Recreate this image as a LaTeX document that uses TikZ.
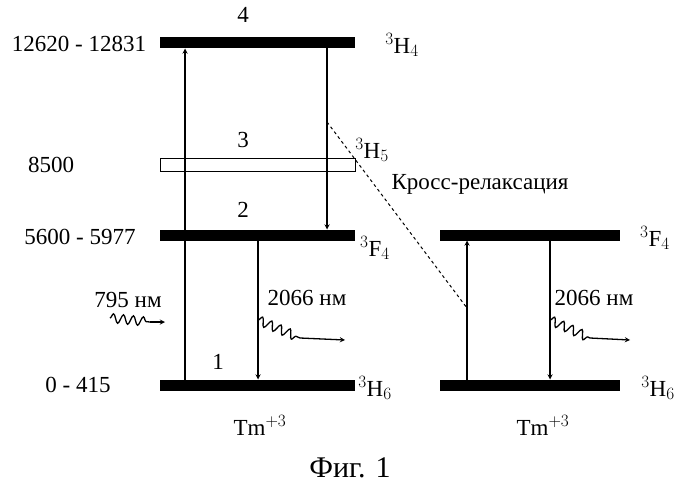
\documentclass[tikz,border=0pt]{standalone}
\usepackage{fontspec}
\setmainfont{Liberation Serif}
\usetikzlibrary{decorations.pathmorphing}
\newcommand\lvlfont{\fontsize{23}{26}\selectfont}
\begin{document}
\begin{tikzpicture}[x=1pt,y=-1pt,>=stealth,line width=1.3pt,every node/.style={font=\lvlfont,inner sep=0pt}]
	\tikzstyle{level} = [draw=none,fill=black,minimum height=11pt,inner sep=0pt]
	\tikzstyle{hollow} = [draw=black,line width=1pt,fill=none,minimum height=13pt,inner sep=0pt]
	\tikzstyle{wave} = [decorate,decoration={snake,amplitude=4.5pt,segment length=10pt}]
	\useasboundingbox (0,0) rectangle (700,492);
	% left system
	\node[level,minimum width=195pt](l-4)at (257.5,43){};
	\node[hollow,minimum width=195pt](l-3)at (257.5,165){};
	\node[level,minimum width=195pt](l-2)at (257.5,235){};
	\node[level,minimum width=195pt](l-1)at (257.5,385){};
	% right system
	\node[level,minimum width=180pt](r-2)at (530,235){};
	\node[level,minimum width=180pt](r-1)at (530,385){};
	
	\node(e-4)at (79,44){12620 - 12831};
	\node(e-3)at (51,165){8500};
	\node(e-2)at (80,237){5600 - 5977};
	\node(e-1)at (78,385){0 - 415};
	
	\node(n-4)at (243,15){4};
	\node(n-3)at (243,140){3};
	\node(n-2)at (243,210){2};
	\node(n-1)at (218,362){1};
	
	\node(t-4)at (402,45){$^3$H$_4$};
	\node(t-3)at (372,150){$^3$H$_5$};
	\node(t-2)at (375,248){$^3$F$_4$};
	\node(t-1)at (375,388){$^3$H$_6$};
	\node(t-r2)at (655,238){$^3$F$_4$};
	\node(t-r1)at (658,388){$^3$H$_6$};
	\node(cr)at (480,184){Кросс-релаксация};
	
	\coordinate(a-up)at (185,379.5);
	\coordinate(a-top)at (185,48.5);
	\coordinate(b-top)at (327,48.5);
	\coordinate(b-bot)at (327,229.5);
	\coordinate(b-mid)at (327,122);
	\coordinate(c-top)at (258,240.5);
	\coordinate(c-bot)at (258,379.5);
	\coordinate(d-bot)at (467,379.5);
	\coordinate(d-top)at (467,240.5);
	\coordinate(d-mid)at (467,308);
	\coordinate(f-top)at (550,240.5);
	\coordinate(f-bot)at (550,379.5);
	\path[->] (a-up) edge (a-top)
	(b-top) edge (b-bot)
	(c-top) edge (c-bot)
	(d-bot) edge (d-top)
	(f-top) edge (f-bot);
	\draw[dashed,line width=1pt] (b-mid) -- (d-mid);
	
	% wavy arrows
	\coordinate(w-1a)at (110,318);
	\coordinate(w-1b)at (150,322);
	\coordinate(w-1c)at (165,322);
	\draw[wave] (w-1a) -- (w-1b);
	\draw[->] (w-1b) -- (w-1c);
	\node(p-1)at (128,300){795 нм};
	
	\coordinate(w-2a)at (258,320);
	\coordinate(w-2b)at (300,338);
	\coordinate(w-2c)at (345,340);
	\draw[wave] (w-2a) -- (w-2b);
	\draw[->] (w-2b) -- (w-2c);
	\node(p-2)at (307,298){2066 нм};
	
	\coordinate(w-3a)at (550,320);
	\coordinate(w-3b)at (590,338);
	\coordinate(w-3c)at (630,340);
	\draw[wave] (w-3a) -- (w-3b);
	\draw[->] (w-3b) -- (w-3c);
	\node(p-3)at (594,298){2066 нм};
	
	\node(tm-1)at (260,425){Tm$^{+3}$};
	\node(tm-2)at (543,425){Tm$^{+3}$};
	\node[font=\fontsize{30}{34}\selectfont](fig)at (350,468){Фиг. 1};
\end{tikzpicture}
\end{document}
